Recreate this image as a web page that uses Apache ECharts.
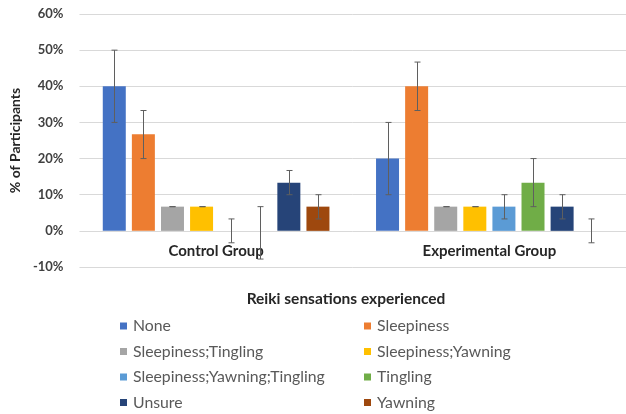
<!DOCTYPE html>
<html><head><meta charset="utf-8">
<script src="https://cdn.jsdelivr.net/npm/echarts@6/dist/echarts.min.js"></script>
<style>html,body{margin:0;padding:0;background:#fff}#c{width:626px;height:414px}</style>
</head><body><div id="c"></div>
<script>
const categories = ['Control Group', 'Experimental Group'];
const seriesNames = ['None', 'Sleepiness', 'Sleepiness;Tingling', 'Sleepiness;Yawning', 'Sleepiness;Yawning;Tingling', 'Tingling', 'Unsure', 'Yawning'];
const colors = ['#4472C4', '#ED7D31', '#A5A5A5', '#FFC000', '#5B9BD5', '#70AD47', '#264478', '#9E480E'];
// values per series: [Control, Experimental]
const values = [
  [40, 20],
  [26.7, 40],
  [6.7, 6.7],
  [6.7, 6.7],
  [0, 6.7],
  [0, 13.3],
  [13.3, 6.7],
  [6.7, 0]
];
const errLow = [
  [30, 10],
  [20, 33.3],
  [6.7, 6.7],
  [6.7, 6.7],
  [-3.3, 3.3],
  [-7.8, 6.7],
  [10, 3.3],
  [3.3, -3.3]
];
const errHigh = [
  [50, 30],
  [33.3, 46.7],
  [6.7, 6.7],
  [6.7, 6.7],
  [3.3, 10],
  [6.7, 20],
  [16.7, 10],
  [10, 3.3]
];
const yTicks = [-10, 0, 10, 20, 30, 40, 50, 60];
const xTitle = 'Reiki sensations experienced';
const yTitle = '% of Participants';

const FONT = 'Lato';
const barWidth = 23;
const barGap = 0.265;
const step = barWidth * (1 + barGap);
const n = seriesNames.length;

const series = [];
seriesNames.forEach((name, i) => {
  series.push({
    name, type: 'bar', barWidth: barWidth, barGap: (barGap * 100) + '%',
    itemStyle: { color: colors[i] },
    data: values[i], z: 2
  });
});
seriesNames.forEach((name, i) => {
  const off = (i - (n - 1) / 2) * step;
  series.push({
    type: 'custom', name: name + ' err', z: 5, silent: true,
    data: categories.map((c, k) => [k, errLow[i][k], errHigh[i][k]]),
    encode: { x: 0, y: [1, 2] },
    renderItem: function (params, api) {
      const k = api.value(0);
      const lo = api.coord([k, api.value(1)]);
      const hi = api.coord([k, api.value(2)]);
      const x = Math.round(lo[0] + off) + 0.5;
      const cap = 3;
      const st = { stroke: '#5f5f5f', lineWidth: 1 };
      return { type: 'group', children: [
        { type: 'line', shape: { x1: x, y1: hi[1], x2: x, y2: lo[1] }, style: st },
        { type: 'line', shape: { x1: x - cap, y1: hi[1], x2: x + cap, y2: hi[1] }, style: st },
        { type: 'line', shape: { x1: x - cap, y1: lo[1], x2: x + cap, y2: lo[1] }, style: st }
      ]};
    }
  });
});

const leftNames = seriesNames.filter((_, i) => i % 2 === 0);
const rightNames = seriesNames.filter((_, i) => i % 2 === 1);
const legendCommon = {
  orient: 'vertical', itemWidth: 7, itemHeight: 7, itemGap: 9.5, icon: 'rect', padding: 0,
  textStyle: { fontFamily: FONT, fontSize: 15.8, color: '#595959', lineHeight: 16, padding: [0, 0, 0, 1] },
  selectedMode: false
};

const chart = echarts.init(document.getElementById('c'), null, { renderer: 'canvas' });
chart.setOption({
  animation: false,
  color: colors,
  grid: { left: 79, top: 14, width: 554, height: 253, containLabel: false },
  xAxis: {
    type: 'category', data: categories, offset: -36.2,
    axisLine: { show: false, onZero: false },
    axisTick: { show: false },
    axisLabel: { fontFamily: FONT, fontSize: 15, fontWeight: 'bold', color: '#262626', margin: 13 },
    splitLine: { show: false }
  },
  yAxis: {
    type: 'value', min: -10, max: 60, interval: 10,
    axisLabel: { fontFamily: FONT, fontSize: 13, fontWeight: 'bold', color: '#404040', margin: 16,
      formatter: v => yTicks.includes(v) ? v + '%' : '' },
    axisLine: { show: false }, axisTick: { show: false },
    splitLine: { lineStyle: { color: '#d9d9d9', width: 1 } },
    name: yTitle, nameLocation: 'middle', nameGap: 55, nameRotate: 90,
    nameTextStyle: { fontFamily: FONT, fontSize: 14, fontWeight: 'bold', color: '#262626' }
  },
  legend: [
    Object.assign({}, legendCommon, { left: 120, top: 318, data: leftNames }),
    Object.assign({}, legendCommon, { left: 364, top: 318, data: rightNames })
  ],
  graphic: [{
    type: 'text', x: 346, y: 299,
    style: { text: xTitle, fontFamily: FONT, fontSize: 15.5, fontWeight: 'bold', fill: '#262626',
      align: 'center', verticalAlign: 'middle' }
  }],
  series: series
});
</script></body></html>
